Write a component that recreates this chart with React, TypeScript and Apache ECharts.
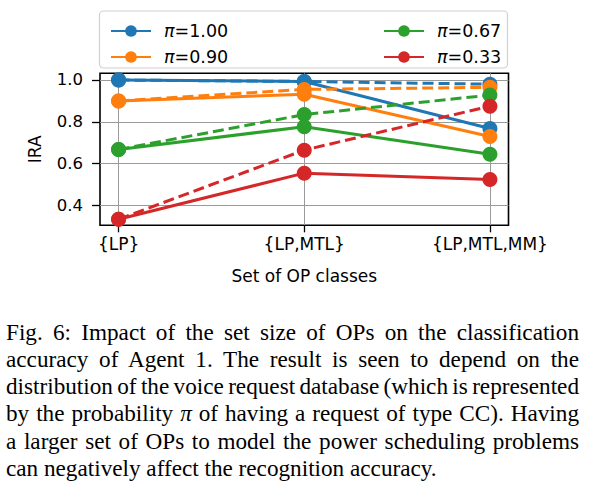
import { useEffect, useRef } from 'react'
import * as echarts from 'echarts'

// categories on the x axis
const categories = ['{LP}', '{LP,MTL}', '{LP,MTL,MM}']
const piNames = ['π=1.00', 'π=0.90', 'π=0.67', 'π=0.33']
const colors = ['#1f77b4', '#ff7f0e', '#2ca02c', '#d62728']

// solid lines (legend entries)
const solid100 = [1.0, 0.993, 0.768]
const solid090 = [0.9, 0.932, 0.73]
const solid067 = [0.668, 0.777, 0.645]
const solid033 = [0.335, 0.555, 0.525]

// dashed lines
const dashed100 = [1.0, 0.993, 0.98]
const dashed090 = [0.9, 0.955, 0.965]
const dashed067 = [0.668, 0.835, 0.928]
const dashed033 = [0.335, 0.665, 0.875]

const yTicks = [0.4, 0.6, 0.8, 1.0]
const xTicks = [0, 1, 2]

const captionLines = [
  'Fig. 6: Impact of the set size of OPs on the classification',
  'accuracy of Agent 1. The result is seen to depend on the',
  'distribution of the voice request database (which is represented',
  'by the probability π of having a request of type CC). Having',
  'a larger set of OPs to model the power scheduling problems',
  'can negatively affect the recognition accuracy.',
]

const FONT = 'DejaVu Sans'

export default function App() {
  const chartRef = useRef<HTMLDivElement>(null)

  useEffect(() => {
    if (!chartRef.current) return
    const chart = echarts.init(chartRef.current, null, { renderer: 'svg' })

    const solids = [solid100, solid090, solid067, solid033]
    const dashes = [dashed100, dashed090, dashed067, dashed033]
    const toPoints = (vals: number[]) => vals.map((v, i) => [i, v])

    const series: any[] = []
    solids.forEach((vals, k) => {
      series.push({
        name: piNames[k],
        type: 'line',
        data: toPoints(vals),
        symbol: 'circle',
        symbolSize: 15,
        itemStyle: { color: colors[k] },
        lineStyle: { color: colors[k], width: 3 },
        clip: false,
      })
    })
    dashes.forEach((vals, k) => {
      series.push({
        name: piNames[k] + ' dashed',
        type: 'line',
        data: toPoints(vals),
        symbol: 'circle',
        symbolSize: 15,
        itemStyle: { color: colors[k] },
        lineStyle: { color: colors[k], width: 3, type: [11, 5] },
        clip: false,
      })
    })

    const legendCommon = {
      orient: 'vertical',
      itemWidth: 40,
      itemHeight: 14.5,
      itemGap: 6,
      formatter: (name: string) => '{i|π}' + name.slice(1),
      textStyle: {
        fontFamily: FONT,
        fontSize: 17.5,
        color: '#000',
        lineHeight: 20,
        padding: [0, 0, 0, 8],
        rich: {
          i: { fontFamily: FONT, fontStyle: 'italic', fontSize: 17.5, color: '#000' },
        },
      },
    }

    chart.setOption({
      animation: false,
      backgroundColor: '#fff',
      graphic: [
        {
          type: 'rect',
          shape: { x: 99.5, y: 11, width: 408, height: 57, r: 4 },
          style: { fill: '#fff', stroke: '#d0d0d0', lineWidth: 1.2 },
          z: 0,
        },
      ],
      legend: [
        { ...legendCommon, left: 105, top: 16, data: [piNames[0], piNames[1]] },
        { ...legendCommon, left: 378, top: 16, data: [piNames[2], piNames[3]] },
      ],
      grid: {
        left: 100,
        top: 73.3,
        width: 408.5,
        height: 152,
        show: true,
        borderColor: '#000',
        borderWidth: 1.6,
        backgroundColor: 'transparent',
      },
      xAxis: {
        type: 'value',
        min: -0.1,
        max: 2.1,
        axisLine: { show: false, onZero: false },
        axisTick: { show: true, customValues: xTicks, length: 7, lineStyle: { color: '#000', width: 1.3 } },
        axisLabel: {
          customValues: xTicks,
          formatter: (v: number) => categories[Math.round(v)],
          margin: 10,
          fontFamily: FONT,
          fontSize: 17,
          color: '#000',
        },
        splitLine: { show: true, lineStyle: { color: '#9a9a9a', width: 1 } },
        name: 'Set of OP classes',
        nameLocation: 'middle',
        nameGap: 42,
        nameTextStyle: { fontFamily: FONT, fontSize: 17, color: '#000' },
      },
      yAxis: {
        type: 'value',
        min: 0.306,
        max: 1.032,
        axisLine: { show: false, onZero: false },
        axisTick: { show: true, customValues: yTicks, length: 8, lineStyle: { color: '#000', width: 1.3 } },
        axisLabel: {
          customValues: yTicks,
          formatter: (v: number) => v.toFixed(1),
          margin: 17,
          fontFamily: FONT,
          fontSize: 16.5,
          color: '#000',
        },
        splitLine: { show: true, lineStyle: { color: '#9a9a9a', width: 1 } },
        name: 'IRA',
        nameLocation: 'middle',
        nameGap: 57,
        nameTextStyle: { fontFamily: FONT, fontSize: 17, color: '#000' },
      },
      series,
    })

    return () => {
      chart.dispose()
    }
  }, [])

  return (
    <div style={{ position: 'fixed', left: 0, top: 0, width: 589, height: 492, background: '#fff' }}>
      <div ref={chartRef} style={{ position: 'absolute', left: 0, top: 0, width: 589, height: 300 }} />
      <div
        style={{
          position: 'absolute',
          left: 6,
          top: 318.5,
          width: 573,
          fontFamily: '"Liberation Serif", serif',
          fontSize: 23.2,
          lineHeight: '27.3px',
          color: '#000',
        }}
      >
        {captionLines.map((line, i) => {
          const last = i === captionLines.length - 1
          const parts = line.split('π')
          return (
            <div
              key={i}
              style={{
                textAlign: last ? 'left' : 'justify',
                textAlignLast: last ? 'left' : 'justify',
                whiteSpace: 'nowrap',
                wordSpacing: last ? 0 : '-2.5px',
              }}
            >
              {parts.length > 1 ? (
                <>
                  {parts[0]}
                  <i>π</i>
                  {parts[1]}
                </>
              ) : (
                line
              )}
            </div>
          )
        })}
      </div>
    </div>
  )
}
